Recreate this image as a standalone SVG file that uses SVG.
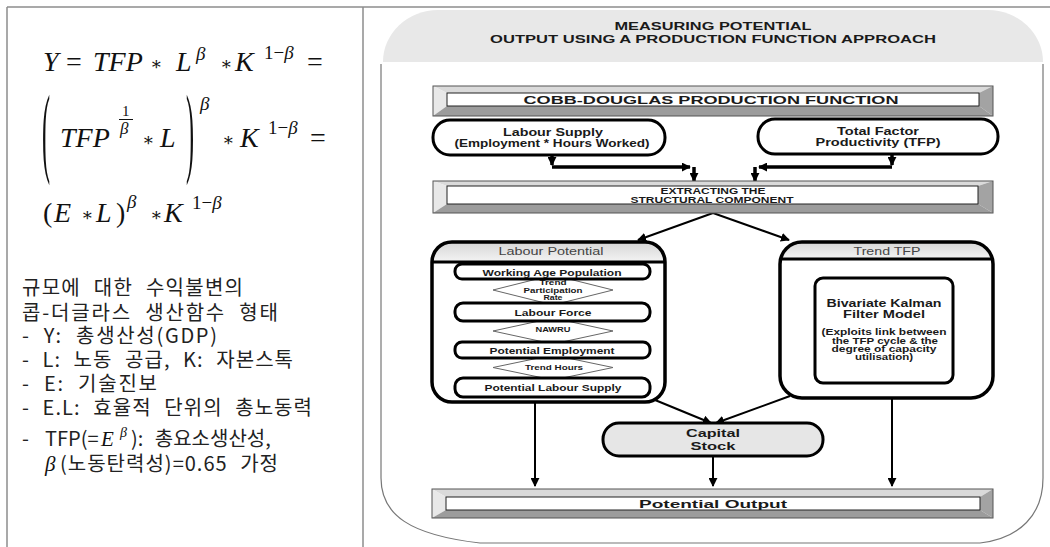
<svg xmlns="http://www.w3.org/2000/svg" width="1050" height="547" viewBox="0 0 1050 547">
<style>
.b{font-family:"Liberation Sans",Arial,sans-serif;font-weight:bold;fill:#1a1a1a;text-anchor:middle}
.rg{font-family:"Liberation Sans",Arial,sans-serif;fill:#444;text-anchor:middle}
.m{font-family:"Liberation Serif","DejaVu Serif",serif;font-size:28px;fill:#111}
.i{font-style:italic}
.s{font-size:19px}
.ast{font-family:"DejaVu Serif",serif;font-size:18px;fill:#111}
.k{font-family:"Noto Sans CJK KR","Noto Sans",sans-serif;font-size:20px;fill:#222;word-spacing:7px}
.frame{stroke:#8c8c8c;stroke-width:1.5;fill:none}
.node{fill:#fff;stroke:#000;stroke-width:3}
.dia{fill:#fff;stroke:#666;stroke-width:1}
.conn{stroke:#000;stroke-width:2;fill:none}
.thick{stroke-width:3.5}
.bt{fill:#dadada}.bl{fill:#e8e8e8}.br{fill:#a3a3a3}.bb{fill:#9c9c9c}
.bin{fill:#fff;stroke:#222;stroke-width:1}
.bout{fill:none;stroke:#555;stroke-width:1}
</style>
<defs>
<marker id="ah" viewBox="0 0 10 10" refX="9" refY="5" markerWidth="9" markerHeight="9" markerUnits="userSpaceOnUse" orient="auto"><path d="M0,0 L10,5 L0,10 z" fill="#000"/></marker>
<linearGradient id="hdr" x1="0" y1="0" x2="0" y2="1"><stop offset="0" stop-color="#d6d6d6"/><stop offset="1" stop-color="#f4f4f4"/></linearGradient>
<clipPath id="clpL"><rect x="432" y="242" width="233" height="160" rx="20"/></clipPath>
<clipPath id="clpT"><rect x="780" y="242" width="213" height="156" rx="22"/></clipPath>
</defs>

<!-- table frame -->
<g id="table">
<line class="frame" x1="7" y1="7" x2="1050" y2="7"/>
<line class="frame" x1="7" y1="7" x2="7" y2="547"/>
<line class="frame" x1="363" y1="7" x2="363" y2="547"/>
</g>

<!-- left: formula -->
<g id="formula">
<text class="m i" x="43" y="71">Y</text>
<text class="m" x="66" y="71">=</text>
<text class="m i" x="93" y="71">TFP</text>
<text class="ast" x="150" y="70">∗</text>
<text class="m i" x="176" y="71">L</text>
<text class="m i s" x="196" y="60">β</text>
<text class="ast" x="220" y="70">∗</text>
<text class="m i" x="235" y="71">K</text>
<text class="m s" x="264" y="59">1−<tspan class="i">β</tspan></text>
<text class="m" x="307" y="71">=</text>

<text class="m" style="font-size:22px" transform="translate(42,164) scale(1.1,4.5)">(</text>
<text class="m i" x="60" y="147">TFP</text>
<text class="m" x="122" y="116" style="font-size:15px">1</text>
<line x1="119" y1="119.5" x2="133" y2="119.5" stroke="#111" stroke-width="1"/>
<text class="m i" x="120" y="134" style="font-size:17px">β</text>
<text class="ast" x="142" y="146">∗</text>
<text class="m i" x="160" y="147">L</text>
<text class="m" style="font-size:22px" transform="translate(186,164) scale(1.1,4.5)">)</text>
<text class="m i s" x="200" y="110">β</text>
<text class="ast" x="222" y="146">∗</text>
<text class="m i" x="240" y="147">K</text>
<text class="m s" x="268" y="134">1−<tspan class="i">β</tspan></text>
<text class="m" x="310" y="147">=</text>

<text class="m" x="43" y="222">(</text>
<text class="m i" x="54" y="222">E</text>
<text class="ast" x="81" y="221">∗</text>
<text class="m i" x="96" y="222">L</text>
<text class="m" x="116" y="222">)</text>
<text class="m i s" x="127" y="208">β</text>
<text class="ast" x="150" y="221">∗</text>
<text class="m i" x="164" y="222">K</text>
<text class="m s" x="192" y="209">1−<tspan class="i">β</tspan></text>
</g>

<!-- left: Korean notes -->
<g id="notes">
<text class="k" x="22" y="295" textLength="221">규모에 대한 수익불변의</text>
<text class="k" x="22" y="320" textLength="256">콥-더글라스 생산함수 형태</text>
<text class="k" x="22" y="343" textLength="195">- Y: 총생산성(GDP)</text>
<text class="k" x="22" y="367" textLength="271">- L: 노동 공급, K: 자본스톡</text>
<text class="k" x="22" y="391" textLength="135">- E: 기술진보</text>
<text class="k" x="22" y="415" textLength="290">- E.L: 효율적 단위의 총노동력</text>
<text class="k" x="22" y="446">-</text>
<text class="k" x="45" y="446">TFP(=</text>
<text class="m i" x="101" y="446" style="font-size:21px">E</text>
<text class="m i" x="120" y="437" style="font-size:14px">β</text>
<text class="k" x="131" y="446">): 총요소생산성,</text>
<text class="m i" x="45" y="471" style="font-size:21px">β</text>
<text class="k" x="60" y="471" textLength="218">(노동탄력성)=0.65 가정</text>
</g>

<!-- right panel -->
<g id="panel">
<path d="M381,64 L381,478 C381,515 410,535 480,543 L980,543 C1020,538 1043,515 1043,478 L1043,64" fill="#fff" stroke="#777" stroke-width="1.2"/>
<path d="M383,62 A55,52 0 0 1 438,10 L988,10 A55,52 0 0 1 1043,62 Z" fill="#e8e8e8"/>
<text class="b" x="713" y="30" font-size="10.5" textLength="197" lengthAdjust="spacingAndGlyphs">MEASURING POTENTIAL</text>
<text class="b" x="713" y="43" font-size="10.5" textLength="446" lengthAdjust="spacingAndGlyphs">OUTPUT USING A PRODUCTION FUNCTION APPROACH</text>
</g>

<!-- connectors -->
<g id="connectors">
<line class="conn thick" x1="552" y1="155" x2="552" y2="165" marker-end="url(#ah)"/>
<line class="conn thick" x1="552" y1="167" x2="690" y2="167" marker-end="url(#ah)"/>
<line class="conn thick" x1="694" y1="167" x2="694" y2="181" marker-end="url(#ah)"/>
<line class="conn thick" x1="892" y1="154" x2="892" y2="165" marker-end="url(#ah)"/>
<line class="conn thick" x1="892" y1="167" x2="759" y2="167" marker-end="url(#ah)"/>
<line class="conn thick" x1="755" y1="167" x2="755" y2="181" marker-end="url(#ah)"/>
<line class="conn" x1="713" y1="213" x2="638" y2="240" marker-end="url(#ah)"/>
<line class="conn" x1="713" y1="213" x2="789" y2="240" marker-end="url(#ah)"/>
<line class="conn" x1="655" y1="400" x2="711" y2="423" marker-end="url(#ah)"/>
<line class="conn" x1="790" y1="396" x2="716" y2="423" marker-end="url(#ah)"/>
<line class="conn" x1="535" y1="397" x2="535" y2="486" marker-end="url(#ah)"/>
<line class="conn" x1="713" y1="456" x2="713" y2="486" marker-end="url(#ah)"/>
<line class="conn" x1="892" y1="398" x2="892" y2="486" marker-end="url(#ah)"/>
</g>

<!-- bevel bars -->
<g id="cobb">
<polygon class="bt" points="433,86 993,86 979,93 447,93"/>
<polygon class="bl" points="433,86 447,93 447,106 433,116"/>
<polygon class="br" points="993,86 993,116 979,106 979,93"/>
<polygon class="bb" points="433,116 447,106 979,106 993,116"/>
<rect class="bin" x="447" y="93" width="532" height="13"/>
<rect class="bout" x="433" y="86" width="560" height="30"/>
<text class="b" x="711" y="104" font-size="11" textLength="375" lengthAdjust="spacingAndGlyphs">COBB-DOUGLAS PRODUCTION FUNCTION</text>
</g>

<g id="extract">
<polygon class="bt" points="433,181 993,181 978,186 447,186"/>
<polygon class="bl" points="433,181 447,186 447,204 433,213"/>
<polygon class="br" points="993,181 993,213 978,204 978,186"/>
<polygon class="bb" points="433,213 447,204 978,204 993,213"/>
<rect class="bin" x="447" y="186" width="531" height="18"/>
<rect class="bout" x="433" y="181" width="560" height="32"/>
<text class="b" x="713" y="194" font-size="8.5" fill="#333" textLength="105" lengthAdjust="spacingAndGlyphs">EXTRACTING THE</text>
<text class="b" x="712" y="202.5" font-size="8.5" fill="#333" textLength="163" lengthAdjust="spacingAndGlyphs">STRUCTURAL COMPONENT</text>
</g>

<g id="output">
<polygon class="bt" points="432,489 993,489 980,497 446,497"/>
<polygon class="bl" points="432,489 446,497 446,510 432,518"/>
<polygon class="br" points="993,489 993,518 980,510 980,497"/>
<polygon class="bb" points="432,518 446,510 980,510 993,518"/>
<rect class="bin" x="446" y="497" width="534" height="13"/>
<rect class="bout" x="432" y="489" width="561" height="29"/>
<text class="b" x="713" y="508" font-size="11" textLength="148" lengthAdjust="spacingAndGlyphs">Potential Output</text>
</g>

<!-- input nodes -->
<g id="labour-supply">
<rect class="node" x="433" y="120" width="232" height="35" rx="17"/>
<text class="b" x="553" y="136" font-size="10.5" textLength="100" lengthAdjust="spacingAndGlyphs">Labour Supply</text>
<text class="b" x="552" y="146.5" font-size="10.5" textLength="195" lengthAdjust="spacingAndGlyphs">(Employment * Hours Worked)</text>
</g>
<g id="tfp">
<rect class="node" x="758" y="119" width="240" height="35" rx="17"/>
<text class="b" x="878" y="135" font-size="10.5" textLength="82" lengthAdjust="spacingAndGlyphs">Total Factor</text>
<text class="b" x="878" y="145.5" font-size="10.5" textLength="125" lengthAdjust="spacingAndGlyphs">Productivity (TFP)</text>
</g>

<!-- Labour Potential -->
<g id="labour-potential">
<rect x="432" y="242" width="233" height="160" rx="20" fill="#fff"/>
<rect x="432" y="242" width="233" height="20" fill="url(#hdr)" clip-path="url(#clpL)"/>
<line x1="432" y1="262" x2="665" y2="262" stroke="#000" stroke-width="3"/>
<rect x="432" y="242" width="233" height="160" rx="20" fill="none" stroke="#000" stroke-width="3.5"/>
<text class="rg" x="551" y="255" font-size="10" textLength="105" lengthAdjust="spacingAndGlyphs">Labour Potential</text>
<polygon class="dia" points="493,290 553,275 613,290 553,305"/>
<polygon class="dia" points="493,331 553,318 613,331 553,344"/>
<polygon class="dia" points="493,367.5 553,355 613,367.5 553,380"/>
<text class="b" x="553" y="285" font-size="6.5" fill="#333" textLength="27" lengthAdjust="spacingAndGlyphs">Trend</text>
<text class="b" x="553" y="293" font-size="6.5" fill="#333" textLength="59" lengthAdjust="spacingAndGlyphs">Participation</text>
<text class="b" x="553" y="300" font-size="6.5" fill="#333" textLength="19" lengthAdjust="spacingAndGlyphs">Rate</text>
<text class="b" x="553" y="331.5" font-size="7" fill="#333" textLength="35" lengthAdjust="spacingAndGlyphs">NAWRU</text>
<text class="b" x="554" y="369.5" font-size="7" fill="#333" textLength="58" lengthAdjust="spacingAndGlyphs">Trend Hours</text>
<rect class="node" x="455" y="264" width="195" height="15" rx="7"/>
<text class="b" x="552" y="275.5" font-size="9.5" textLength="139" lengthAdjust="spacingAndGlyphs">Working Age Population</text>
<rect class="node" x="455" y="303" width="195" height="18" rx="8"/>
<text class="b" x="553" y="315.5" font-size="9.5" textLength="77" lengthAdjust="spacingAndGlyphs">Labour Force</text>
<rect class="node" x="455" y="342" width="195" height="16" rx="7"/>
<text class="b" x="552" y="353.5" font-size="9.5" textLength="125" lengthAdjust="spacingAndGlyphs">Potential Employment</text>
<rect class="node" x="455" y="378" width="195" height="19" rx="8"/>
<text class="b" x="553" y="390.5" font-size="9.5" textLength="137" lengthAdjust="spacingAndGlyphs">Potential Labour Supply</text>
</g>

<!-- Trend TFP -->
<g id="trend-tfp">
<rect x="780" y="242" width="213" height="156" rx="22" fill="#fff"/>
<rect x="780" y="242" width="213" height="17" fill="url(#hdr)" clip-path="url(#clpT)"/>
<line x1="780" y1="259" x2="993" y2="259" stroke="#000" stroke-width="3"/>
<rect x="780" y="242" width="213" height="156" rx="22" fill="none" stroke="#000" stroke-width="3.5"/>
<text class="rg" x="887" y="254.5" font-size="10" textLength="67" lengthAdjust="spacingAndGlyphs">Trend TFP</text>
<rect class="node" x="815" y="278" width="138" height="105" rx="8"/>
<text class="b" x="884" y="307" font-size="10" textLength="115" lengthAdjust="spacingAndGlyphs">Bivariate Kalman</text>
<text class="b" x="884" y="318" font-size="10" textLength="82" lengthAdjust="spacingAndGlyphs">Filter Model</text>
<text class="b" x="884" y="335" font-size="8.5" fill="#333" textLength="125" lengthAdjust="spacingAndGlyphs">(Exploits link between</text>
<text class="b" x="885" y="343.5" font-size="8.5" fill="#333" textLength="106" lengthAdjust="spacingAndGlyphs">the TFP cycle &amp; the</text>
<text class="b" x="884" y="351.5" font-size="8.5" fill="#333" textLength="105" lengthAdjust="spacingAndGlyphs">degree of capacity</text>
<text class="b" x="884" y="360" font-size="8.5" fill="#333" textLength="58" lengthAdjust="spacingAndGlyphs">utilisation)</text>
</g>

<!-- Capital Stock -->
<g id="capital-stock">
<rect x="603" y="423" width="220" height="33" rx="16" fill="#e6e6e6" stroke="#000" stroke-width="3"/>
<text class="b" x="713" y="437" font-size="11" textLength="54" lengthAdjust="spacingAndGlyphs">Capital</text>
<text class="b" x="713" y="450" font-size="11" textLength="45" lengthAdjust="spacingAndGlyphs">Stock</text>
</g>
</svg>
